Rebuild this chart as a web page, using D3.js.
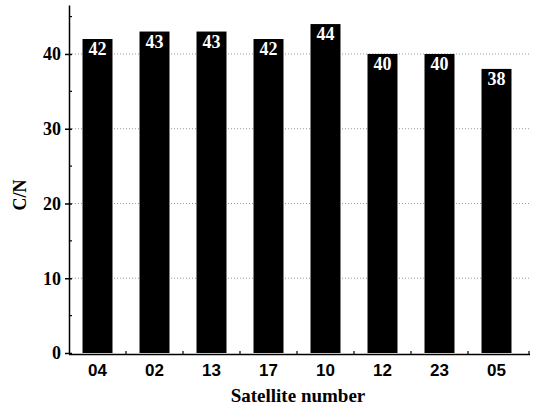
<!DOCTYPE html>
<html>
<head>
<meta charset="utf-8">
<script src="https://cdn.jsdelivr.net/npm/d3@7"></script>
<style>
  html, body { margin: 0; padding: 0; background: #fff; }
  svg { display: block; }
</style>
</head>
<body>
<svg id="chart" width="537" height="408"></svg>
<script>
// Carrier-to-noise ratio per tracked satellite
const satellites = ["04", "02", "13", "17", "10", "12", "23", "05"];
const cnValues = [42, 43, 43, 42, 44, 40, 40, 38];
const yTicks = [0, 10, 20, 30, 40];
const yMinorTicks = [5, 15, 25, 35, 45];

const svg = d3.select("#chart");
const plotLeft = 69, plotRight = 525, plotTop = 5, plotBottom = 353;

const SERIF = '"Liberation Serif", serif';
const SANS = '"Liberation Sans", sans-serif';

const x = d3.scaleBand().domain(satellites).range([plotLeft, plotRight])
  .paddingInner(0.474).paddingOuter(0.237);
const y = d3.scaleLinear().domain([0, 46.55]).range([plotBottom, plotTop]);

// dotted gridlines at major ticks
svg.append("g").selectAll("line").data(yTicks.filter(d => d > 0)).join("line")
  .attr("x1", plotLeft).attr("x2", plotRight + 5)
  .attr("y1", d => y(d)).attr("y2", d => y(d))
  .attr("stroke", "#999").attr("stroke-width", 1)
  .attr("stroke-dasharray", "1,2");

// bars
svg.append("g").selectAll("rect").data(cnValues).join("rect")
  .attr("x", (d, i) => x(satellites[i]))
  .attr("y", d => y(d))
  .attr("width", x.bandwidth())
  .attr("height", d => plotBottom - y(d))
  .attr("fill", "#000");

// value labels inside bars
svg.append("g").selectAll("text").data(cnValues).join("text")
  .attr("x", (d, i) => x(satellites[i]) + x.bandwidth() / 2)
  .attr("y", d => y(d) + 16)
  .attr("text-anchor", "middle")
  .attr("fill", "#fff")
  .style("font-family", SERIF).style("font-weight", "bold").style("font-size", "18px")
  .text(d => d);

// y axis
const yAxis = svg.append("g").attr("transform", `translate(${plotLeft},0)`);
yAxis.call(d3.axisLeft(y).tickValues(yTicks).tickSize(4).tickSizeOuter(0))
  .call(g => g.select(".domain").attr("stroke-width", 1.5))
  .call(g => g.selectAll(".tick line").attr("stroke-width", 1.5).attr("x2", 3).attr("x1", -4))
  .call(g => g.selectAll(".tick text")
    .style("font-family", SERIF).style("font-weight", "bold").style("font-size", "18px")
    .attr("fill", "#000").attr("x", -8));
yAxis.selectAll(".minor").data(yMinorTicks).join("line").attr("class", "minor")
  .attr("x1", 0).attr("x2", 3)
  .attr("y1", d => y(d)).attr("y2", d => y(d))
  .attr("stroke", "#000").attr("stroke-width", 1.2);

// x axis
const xAxis = svg.append("g").attr("transform", `translate(0,${plotBottom + 1})`);
xAxis.call(d3.axisBottom(x).tickSize(0).tickSizeOuter(0).tickPadding(10))
  .call(g => g.select(".domain").attr("stroke-width", 1.5)
    .attr("d", `M${plotLeft},0.5H${plotRight + 5}`))
  .call(g => g.selectAll(".tick text")
    .style("font-family", SANS).style("font-weight", "bold").style("font-size", "17px")
    .attr("fill", "#000"));
// small upward ticks between categories
const bounds = satellites.slice(1).map(s => x(s) - x.step() * x.paddingInner() / 2);
xAxis.selectAll(".minor").data(bounds.concat([plotRight + 4])).join("line").attr("class", "minor")
  .attr("x1", d => d).attr("x2", d => d)
  .attr("y1", 0).attr("y2", -3)
  .attr("stroke", "#000").attr("stroke-width", 1.2);

// axis titles
svg.append("text")
  .attr("transform", `translate(26,${(plotTop + plotBottom) / 2 + 16}) rotate(-90)`)
  .attr("text-anchor", "middle")
  .style("font-family", SERIF).style("font-weight", "bold").style("font-size", "18px")
  .text("C/N");

svg.append("text")
  .attr("x", 298).attr("y", 402)
  .attr("text-anchor", "middle")
  .style("font-family", SERIF).style("font-weight", "bold").style("font-size", "19px")
  .text("Satellite number");
</script>
</body>
</html>
